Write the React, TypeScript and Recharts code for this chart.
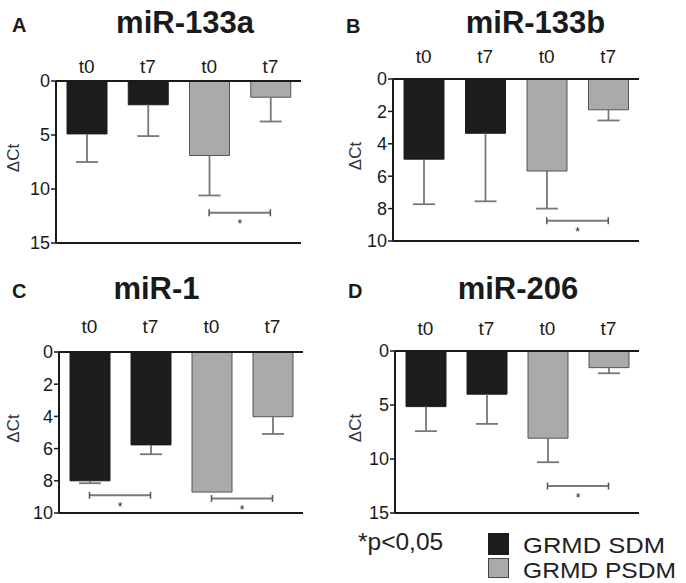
import React from 'react';
import { BarChart, Bar, XAxis, YAxis, Cell, ReferenceLine } from 'recharts';

const FONT = '"Liberation Sans", Arial, Helvetica, sans-serif';

const categories = ['SDM t0', 'SDM t7', 'PSDM t0', 'PSDM t7'];
const tickLabels = ['t0', 't7', 't0', 't7'];
const groups = ['SDM', 'SDM', 'PSDM', 'PSDM'];
const groupColors: Record<string, string> = { SDM: '#1c1c1c', PSDM: '#a9aaac' };
const groupStroke: Record<string, string> = { SDM: '#1c1c1c', PSDM: '#555555' };

const miR133aMean = [4.9, 2.2, 6.9, 1.5];
const miR133aSD = [2.6, 2.9, 3.7, 2.25];
const miR133bMean = [4.95, 3.35, 5.68, 1.9];
const miR133bSD = [2.78, 4.2, 2.32, 0.66];
const miR1Mean = [8.0, 5.77, 8.7, 4.02];
const miR1SD = [0.15, 0.58, 0, 1.07];
const miR206Mean = [5.15, 4.0, 8.07, 1.54];
const miR206SD = [2.27, 2.75, 2.23, 0.52];

const ticks15 = [0, 5, 10, 15];
const ticks10 = [0, 2, 4, 6, 8, 10];

const miR133aBrackets = [{ from: 'PSDM t0', to: 'PSDM t7', y: 12.2 }];
const miR133bBrackets = [{ from: 'PSDM t0', to: 'PSDM t7', y: 8.75 }];
const miR1Brackets = [
  { from: 'SDM t0', to: 'SDM t7', y: 8.9 },
  { from: 'PSDM t0', to: 'PSDM t7', y: 9.1 },
];
const miR206Brackets = [{ from: 'PSDM t0', to: 'PSDM t7', y: 12.5 }];

const buildData = (mean: number[], sd: number[]) =>
  categories.map((c, i) => ({ cat: c, value: mean[i], sd: sd[i], group: groups[i] }));

// Whisker drawn from the stacked SD segment (bar end -> bar end + SD), using the chart's own scale
const Whisker = (p: any) => {
  const { x, y, width, height } = p;
  if (!height || !isFinite(height)) return <g />;
  const cx = x + width / 2;
  const far = Math.max(y, y + height);
  const near = Math.min(y, y + height);
  return (
    <g>
      <line x1={cx} y1={near} x2={cx} y2={far} stroke="#777" strokeWidth={1.8} />
      <line x1={cx - 11} y1={far} x2={cx + 11} y2={far} stroke="#777" strokeWidth={1.8} />
    </g>
  );
};

const Bracket = (p: any) => {
  const { x1, y1, x2 } = p;
  const cap = 3.5;
  return (
    <g>
      <line x1={x1} y1={y1} x2={x2} y2={y1} stroke="#7a7a7a" strokeWidth={2} />
      <line x1={x1} y1={y1 - cap} x2={x1} y2={y1 + cap} stroke="#555" strokeWidth={1.5} />
      <line x1={x2} y1={y1 - cap} x2={x2} y2={y1 + cap} stroke="#555" strokeWidth={1.5} />
      <text x={(x1 + x2) / 2} y={y1 + 15.5} textAnchor="middle" fontSize={12} fill="#222" fontFamily={FONT}>
        *
      </text>
    </g>
  );
};

const makeYTitle = (x: number) => (props: any) => {
  const vb = props.viewBox || { y: 0, height: 0 };
  const cy = vb.y + vb.height / 2 - 4;
  return (
    <text
      x={x}
      y={cy}
      transform={`rotate(-90 ${x} ${cy})`}
      textAnchor="middle"
      dominantBaseline="central"
      fontSize={17}
      fill="#333"
      fontFamily={FONT}
    >
      ΔCt
    </text>
  );
};

type PanelProps = {
  left: number;
  top: number;
  width: number;
  height: number;
  margin: { top: number; right: number; bottom: number; left: number };
  yWidth: number;
  xTickMargin: number;
  yTitleX: number;
  mean: number[];
  sd: number[];
  max: number;
  ticks: number[];
  brackets: { from: string; to: string; y: number }[];
};

const Panel = (p: PanelProps) => {
  const data = buildData(p.mean, p.sd);
  return (
    <div style={{ position: 'absolute', left: p.left, top: p.top }}>
      <BarChart width={p.width} height={p.height} data={data} margin={p.margin}>
        <XAxis
          dataKey="cat"
          orientation="top"
          height={30}
          interval={0}
          tickLine={false}
          tickSize={0}
          tickMargin={p.xTickMargin}
          axisLine={{ stroke: '#1a1a1a', strokeWidth: 2 }}
          tick={{ fontSize: 19, fill: '#1a1a1a', fontFamily: FONT }}
          tickFormatter={(_v: any, i: number) => tickLabels[i]}
        />
        <YAxis
          type="number"
          reversed
          domain={[0, p.max]}
          allowDataOverflow
          ticks={p.ticks}
          interval={0}
          width={p.yWidth}
          tickSize={5}
          tickMargin={1}
          axisLine={{ stroke: '#1a1a1a', strokeWidth: 2 }}
          tickLine={{ stroke: '#1a1a1a', strokeWidth: 1.5 }}
          tick={{ fontSize: 18, fill: '#1a1a1a', fontFamily: FONT }}
          label={{ value: 'ΔCt', content: makeYTitle(p.yTitleX) }}
        />
        <ReferenceLine y={p.max} stroke="#1a1a1a" strokeWidth={2} />
        <Bar dataKey="value" stackId="s" barSize={40} isAnimationActive={false}>
          {data.map((d, i) => (
            <Cell key={i} fill={groupColors[d.group]} stroke={groupStroke[d.group]} strokeWidth={1} />
          ))}
        </Bar>
        <Bar dataKey="sd" stackId="s" barSize={40} isAnimationActive={false} shape={Whisker} />
        {p.brackets.map((b, i) => (
          <ReferenceLine
            key={i}
            segment={[
              { x: b.from, y: b.y },
              { x: b.to, y: b.y },
            ]}
            shape={Bracket}
          />
        ))}
      </BarChart>
    </div>
  );
};

export default function App() {
  return (
    <div style={{ position: 'absolute', left: 0, top: 0, width: 686, height: 583, background: '#fff' }}>
      <Panel
        left={0}
        top={0}
        width={320}
        height={260}
        margin={{ top: 51, right: 19, bottom: 17, left: 6 }}
        yWidth={50}
        xTickMargin={8}
        yTitleX={13}
        mean={miR133aMean}
        sd={miR133aSD}
        max={15}
        ticks={ticks15}
        brackets={miR133aBrackets}
      />
      <Panel
        left={343}
        top={0}
        width={320}
        height={260}
        margin={{ top: 49, right: 24, bottom: 19, left: 4 }}
        yWidth={46}
        xTickMargin={16}
        yTitleX={12}
        mean={miR133bMean}
        sd={miR133bSD}
        max={10}
        ticks={ticks10}
        brackets={miR133bBrackets}
      />
      <Panel
        left={0}
        top={270}
        width={320}
        height={260}
        margin={{ top: 52, right: 17, bottom: 17, left: 9 }}
        yWidth={50}
        xTickMargin={19}
        yTitleX={13}
        mean={miR1Mean}
        sd={miR1SD}
        max={10}
        ticks={ticks10}
        brackets={miR1Brackets}
      />
      <Panel
        left={343}
        top={270}
        width={320}
        height={260}
        margin={{ top: 51, right: 24, bottom: 17, left: 4 }}
        yWidth={48}
        xTickMargin={16}
        yTitleX={12}
        mean={miR206Mean}
        sd={miR206SD}
        max={15}
        ticks={ticks15}
        brackets={miR206Brackets}
      />
      <svg
        width={686}
        height={583}
        style={{ position: 'absolute', left: 0, top: 0, pointerEvents: 'none' }}
        fontFamily={FONT}
      >
        <g fontWeight="bold" fill="#1a1a1a">
          <text x={12} y={32} fontSize={20}>A</text>
          <text x={346} y={33} fontSize={20}>B</text>
          <text x={12} y={298} fontSize={20}>C</text>
          <text x={348} y={298} fontSize={20}>D</text>
          <text x={185} y={33} fontSize={31} textAnchor="middle">miR-133a</text>
          <text x={535.5} y={33} fontSize={31} textAnchor="middle">miR-133b</text>
          <text x={156.5} y={299} fontSize={31} textAnchor="middle">miR-1</text>
          <text x={518} y={299} fontSize={31} textAnchor="middle">miR-206</text>
        </g>
        <text x={358} y={550} fontSize={24.5} fill="#222">*p&lt;0,05</text>
        <rect x={488} y={533} width={21} height={22} fill="#1c1c1c" />
        <rect x={488.5} y={558.5} width={20} height={19} fill="#a9aaac" stroke="#444" strokeWidth={1} />
        <text x={523} y={552.5} fontSize={22} fill="#222" textLength={142} lengthAdjust="spacingAndGlyphs">
          GRMD SDM
        </text>
        <text x={523} y={577.5} fontSize={22} fill="#222" textLength={153} lengthAdjust="spacingAndGlyphs">
          GRMD PSDM
        </text>
      </svg>
    </div>
  );
}
